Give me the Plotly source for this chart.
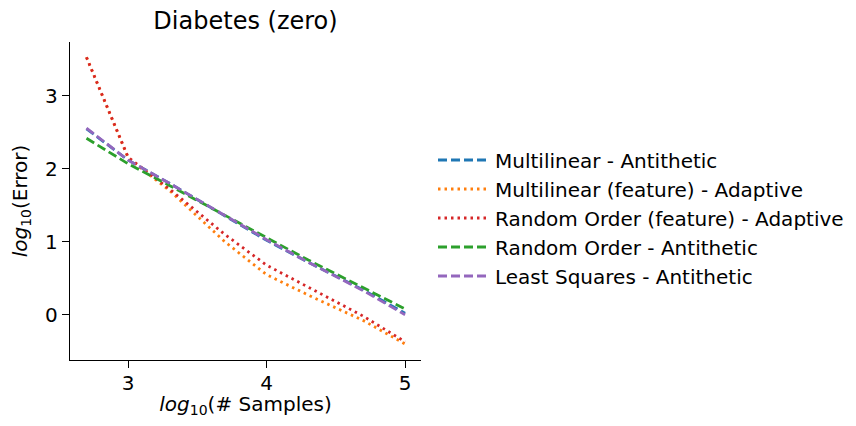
import plotly.graph_objects as go

x_log_samples = [2.699, 3.0, 3.301, 3.699, 4.0, 4.301, 4.699, 5.0]

multilinear_antithetic = [2.55, 2.12, 1.80, 1.35, 1.02, 0.72, 0.34, 0.02]
multilinear_feature_adaptive = [3.53, 2.15, 1.70, 1.00, 0.55, 0.27, -0.08, -0.40]
random_order_feature_adaptive = [3.53, 2.16, 1.72, 1.10, 0.68, 0.38, -0.02, -0.37]
random_order_antithetic = [2.42, 2.07, 1.77, 1.36, 1.05, 0.75, 0.37, 0.08]
least_squares_antithetic = [2.56, 2.12, 1.80, 1.36, 1.03, 0.72, 0.33, 0.00]

series = [
    ("Multilinear - Antithetic", multilinear_antithetic, "#1f77b4", "9px,4px"),
    ("Multilinear (feature) - Adaptive", multilinear_feature_adaptive, "#ff7f0e", "2.5px,4px"),
    ("Random Order (feature) - Adaptive", random_order_feature_adaptive, "#d62728", "2.5px,4px"),
    ("Random Order - Antithetic", random_order_antithetic, "#2ca02c", "9px,4px"),
    ("Least Squares - Antithetic", least_squares_antithetic, "#9467bd", "9px,4px"),
]

fig = go.Figure()
for name, ys, color, dash in series:
    fig.add_trace(go.Scatter(
        x=x_log_samples, y=ys, mode="lines", name=name,
        line=dict(color=color, width=2.8, dash=dash),
    ))

axis_common = dict(
    showline=True, linecolor="black", linewidth=1.3,
    ticks="outside", ticklen=7, tickwidth=1.3, tickcolor="black",
    showgrid=False, zeroline=False, mirror=False, automargin=False,
    tickfont=dict(size=20, color="black"),
)

# The page shows the figure inside an 8px body margin; keep it within the window.
W, H = 840, 410
L, R, T, B = 62, 427, 34, 58
plot_w = W - L - R
plot_h = H - T - B

fig.update_layout(
    width=W, height=H,
    margin=dict(l=L, r=R, t=T, b=B, autoexpand=False),
    plot_bgcolor="white", paper_bgcolor="white",
    font=dict(family="DejaVu Sans", size=20, color="black"),
    title=dict(text="Diabetes (zero)", x=(L + (W - R)) / 2 / W, xanchor="center",
               y=1 - 13 / H, yanchor="middle", font=dict(size=24)),
    xaxis=dict(range=[2.58, 5.115], tickvals=[3, 4, 5], ticklabelstandoff=-2,
               title=dict(text="<i>log</i><sub>10</sub>(# Samples)", standoff=6, font=dict(size=20)),
               **axis_common),
    yaxis=dict(range=[-0.62, 3.74], tickvals=[0, 1, 2, 3],
               title=dict(text="<i>log</i><sub>10</sub>(Error)", standoff=14, font=dict(size=20)),
               **axis_common),
    legend=dict(x=(425 - L) / plot_w, y=(H - B - 210) / plot_h,
                xanchor="left", yanchor="middle", itemwidth=52,
                font=dict(size=20), bgcolor="rgba(0,0,0,0)", tracegroupgap=0),
    showlegend=True,
)

fig.write_html("out.html")
